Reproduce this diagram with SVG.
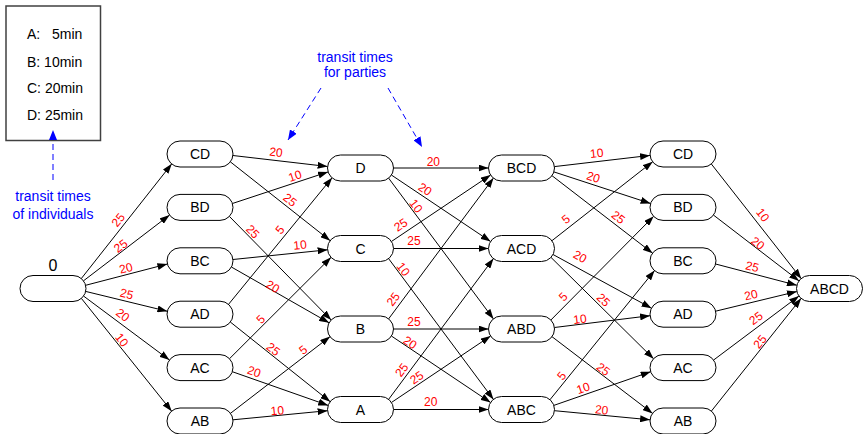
<svg xmlns="http://www.w3.org/2000/svg" width="863" height="434" viewBox="0 0 863 434">
<defs>
<marker id="arr" markerUnits="userSpaceOnUse" markerWidth="10" markerHeight="7" refX="10" refY="3.5" orient="auto"><path d="M0,0 L10,3.5 L0,7 z" fill="#000"/></marker>
<marker id="barr" markerUnits="userSpaceOnUse" markerWidth="10" markerHeight="8" refX="10" refY="4" orient="auto"><path d="M0,0 L10,4 L0,8 z" fill="#0000ff"/></marker>
</defs>
<style>
.n rect{fill:#fff;stroke:#000;stroke-width:1}
.n text{font-family:"Liberation Sans",Arial,sans-serif;font-size:14px;text-anchor:middle;fill:#000}
.e line{stroke:#000;stroke-width:1;marker-end:url(#arr)}
.el{font-family:"Liberation Sans",Arial,sans-serif;font-size:12px;fill:#ff0000;text-anchor:middle}
.bl{font-family:"Liberation Sans",Arial,sans-serif;font-size:14px;fill:#0000ff;text-anchor:middle}
.bd{stroke:#0000ff;stroke-width:1;stroke-dasharray:6,4;fill:none;marker-end:url(#barr)}
.lg{font-family:"Liberation Sans",Arial,sans-serif;font-size:14px;fill:#000}
</style>
<rect width="863" height="434" fill="#fff"/>

<g id="legend">
<rect x="6" y="6" width="94.5" height="134.5" fill="#fff" stroke="#404040" stroke-width="1.5"/>
<text class="lg" x="27" y="39">A:<tspan x="52">5min</tspan></text>
<text class="lg" x="27" y="66.5">B: 10min</text>
<text class="lg" x="27" y="93">C: 20min</text>
<text class="lg" x="27" y="120">D: 25min</text>
</g>
<g id="note-individuals">
<line class="bd" x1="53" y1="180" x2="53" y2="130"/>
<text class="bl" x="53" y="201">transit times</text>
<text class="bl" x="53" y="218.5">of individuals</text>
</g>
<g id="note-parties">
<text class="bl" x="355" y="62">transit times</text>
<text class="bl" x="355" y="77">for parties</text>
<line class="bd" x1="321" y1="88" x2="288" y2="140"/>
<line class="bd" x1="388" y1="88" x2="422" y2="147"/>
</g>

<g id="connectors" class="e">
<line x1="81.2" y1="278.7" x2="171.8" y2="163.8"/>
<line x1="83.4" y1="280.9" x2="169.6" y2="215.0"/>
<line x1="85.6" y1="285.3" x2="167.4" y2="264.0"/>
<line x1="85.6" y1="291.4" x2="167.4" y2="311.3"/>
<line x1="83.5" y1="296.0" x2="169.5" y2="360.1"/>
<line x1="81.3" y1="298.3" x2="171.7" y2="411.2"/>

<line x1="232.9" y1="155.5" x2="327.6" y2="166.5"/>
<line x1="230.3" y1="161.8" x2="330.2" y2="240.7"/>
<line x1="232.4" y1="203.5" x2="328.1" y2="171.9"/>
<line x1="229.3" y1="216.3" x2="331.2" y2="320.1"/>
<line x1="232.9" y1="259.5" x2="327.6" y2="249.8"/>
<line x1="231.4" y1="267.0" x2="329.1" y2="322.8"/>
<line x1="228.4" y1="304.5" x2="332.1" y2="177.7"/>
<line x1="230.3" y1="322.0" x2="330.2" y2="401.7"/>
<line x1="229.4" y1="358.8" x2="331.1" y2="257.3"/>
<line x1="232.3" y1="371.7" x2="328.2" y2="405.4"/>
<line x1="230.4" y1="413.4" x2="330.1" y2="336.6"/>
<line x1="232.9" y1="419.8" x2="327.6" y2="410.7"/>

<line x1="393.5" y1="168" x2="488.5" y2="168"/>
<line x1="391.4" y1="175.0" x2="490.6" y2="241.5"/>
<line x1="388.5" y1="178.0" x2="493.5" y2="319.0"/>
<line x1="391.4" y1="241.5" x2="490.6" y2="175.0"/>
<line x1="393.5" y1="248.5" x2="488.5" y2="248.5"/>
<line x1="388.5" y1="258.5" x2="493.5" y2="399.5"/>
<line x1="388.5" y1="319.0" x2="493.5" y2="178.0"/>
<line x1="393.5" y1="329" x2="488.5" y2="329"/>
<line x1="391.4" y1="336.0" x2="490.6" y2="402.5"/>
<line x1="388.5" y1="399.5" x2="493.5" y2="258.5"/>
<line x1="391.4" y1="402.5" x2="490.6" y2="336.0"/>
<line x1="393.5" y1="409.5" x2="488.5" y2="409.5"/>

<line x1="554.4" y1="166.6" x2="650.1" y2="155.4"/>
<line x1="553.9" y1="171.9" x2="650.6" y2="203.5"/>
<line x1="551.9" y1="175.6" x2="652.6" y2="253.2"/>
<line x1="551.8" y1="240.8" x2="652.7" y2="161.7"/>
<line x1="553.0" y1="254.5" x2="651.5" y2="308.2"/>
<line x1="550.9" y1="257.3" x2="653.6" y2="358.8"/>
<line x1="550.8" y1="320.1" x2="653.7" y2="216.3"/>
<line x1="554.4" y1="327.5" x2="650.1" y2="315.7"/>
<line x1="551.9" y1="336.6" x2="652.6" y2="413.4"/>
<line x1="549.9" y1="399.8" x2="654.6" y2="270.5"/>
<line x1="553.8" y1="405.4" x2="650.7" y2="371.7"/>
<line x1="554.5" y1="410.7" x2="650.1" y2="419.8"/>

<line x1="711.2" y1="163.8" x2="801.3" y2="278.7"/>
<line x1="713.4" y1="215.0" x2="799.1" y2="280.9"/>
<line x1="715.6" y1="264.0" x2="796.9" y2="285.3"/>
<line x1="715.6" y1="311.2" x2="796.9" y2="291.5"/>
<line x1="713.5" y1="360.1" x2="799.0" y2="296.0"/>
<line x1="711.3" y1="411.2" x2="801.2" y2="298.3"/>
</g>

<g id="edge-labels">
<text class="el" transform="translate(118.3,220) rotate(-51.8)" y="4">25</text>
<text class="el" transform="translate(120.7,246) rotate(-37.4)" y="4">25</text>
<text class="el" transform="translate(126,268.3) rotate(-14.6)" y="4">20</text>
<text class="el" transform="translate(126.7,294) rotate(13.6)" y="4">25</text>
<text class="el" transform="translate(122.7,315) rotate(36.7)" y="4">20</text>
<text class="el" transform="translate(121.7,340) rotate(51.3)" y="4">10</text>

<text class="el" transform="translate(276,152.3) rotate(6.7)" y="4">20</text>
<text class="el" transform="translate(295,176) rotate(-18.2)" y="4">10</text>
<text class="el" transform="translate(290,200) rotate(38.3)" y="4">25</text>
<text class="el" transform="translate(252.7,231.7) rotate(45.5)" y="4">25</text>
<text class="el" transform="translate(280,230) rotate(-50.7)" y="4">5</text>
<text class="el" transform="translate(300,245) rotate(-5.9)" y="4">10</text>
<text class="el" transform="translate(272.7,286.7) rotate(29.7)" y="4">20</text>
<text class="el" transform="translate(260.7,319.3) rotate(-44.9)" y="4">5</text>
<text class="el" transform="translate(273.3,349.3) rotate(38.6)" y="4">25</text>
<text class="el" transform="translate(303.3,350) rotate(-37.6)" y="4">5</text>
<text class="el" transform="translate(254,371.7) rotate(19.3)" y="4">20</text>
<text class="el" transform="translate(277.3,410.7) rotate(-5.5)" y="4">10</text>

<text class="el" transform="translate(433.3,162.3)" y="4">20</text>
<text class="el" transform="translate(425,189.3) rotate(33.9)" y="4">20</text>
<text class="el" transform="translate(416,206) rotate(53.3)" y="4">10</text>
<text class="el" transform="translate(400.7,225) rotate(-33.9)" y="4">25</text>
<text class="el" transform="translate(414,241)" y="4">25</text>
<text class="el" transform="translate(403.3,269.3) rotate(53.3)" y="4">10</text>
<text class="el" transform="translate(393.3,299.3) rotate(-53.3)" y="4">25</text>
<text class="el" transform="translate(414,321.7)" y="4">25</text>
<text class="el" transform="translate(410,342.7) rotate(33.9)" y="4">20</text>
<text class="el" transform="translate(401.7,370) rotate(-53.3)" y="4">25</text>
<text class="el" transform="translate(416.7,377.7) rotate(-33.9)" y="4">25</text>
<text class="el" transform="translate(430.7,402.3)" y="4">20</text>

<text class="el" transform="translate(596.7,153.3) rotate(-6.6)" y="4">10</text>
<text class="el" transform="translate(593.3,177.3) rotate(18.1)" y="4">20</text>
<text class="el" transform="translate(618.3,217.3) rotate(37.6)" y="4">25</text>
<text class="el" transform="translate(566,219.3) rotate(-38.1)" y="4">5</text>
<text class="el" transform="translate(580,256.7) rotate(28.6)" y="4">20</text>
<text class="el" transform="translate(563.3,296.7) rotate(-45.3)" y="4">5</text>
<text class="el" transform="translate(603.3,300) rotate(44.7)" y="4">25</text>
<text class="el" transform="translate(580,319.3) rotate(-7)" y="4">10</text>
<text class="el" transform="translate(603.3,369.3) rotate(37.4)" y="4">25</text>
<text class="el" transform="translate(561.7,376) rotate(-51)" y="4">5</text>
<text class="el" transform="translate(583.3,388.3) rotate(-19.2)" y="4">10</text>
<text class="el" transform="translate(601.7,410) rotate(5.5)" y="4">20</text>

<text class="el" transform="translate(762.7,215) rotate(51.9)" y="4">10</text>
<text class="el" transform="translate(757.7,243.3) rotate(37.6)" y="4">20</text>
<text class="el" transform="translate(752.3,266.7) rotate(14.7)" y="4">25</text>
<text class="el" transform="translate(751,295) rotate(-13.7)" y="4">20</text>
<text class="el" transform="translate(756,318.3) rotate(-36.9)" y="4">25</text>
<text class="el" transform="translate(760,341.7) rotate(-51.5)" y="4">25</text>
</g>

<g id="n0" class="n"><rect x="20" y="275.5" width="66" height="26" rx="13"/><text x="53" y="271" style="font-size:16px">0</text></g>

<g id="n1_CD" class="n"><rect x="167" y="141" width="66" height="26" rx="13"/><text x="200" y="159">CD</text></g>
<g id="n1_BD" class="n"><rect x="167" y="194.4" width="66" height="26" rx="13"/><text x="200" y="212.4">BD</text></g>
<g id="n1_BC" class="n"><rect x="167" y="247.8" width="66" height="26" rx="13"/><text x="200" y="265.8">BC</text></g>
<g id="n1_AD" class="n"><rect x="167" y="301.2" width="66" height="26" rx="13"/><text x="200" y="319.2">AD</text></g>
<g id="n1_AC" class="n"><rect x="167" y="354.6" width="66" height="26" rx="13"/><text x="200" y="372.6">AC</text></g>
<g id="n1_AB" class="n"><rect x="167" y="408" width="66" height="26" rx="13"/><text x="200" y="426">AB</text></g>

<g id="n2_D" class="n"><rect x="327.5" y="155" width="66" height="26" rx="13"/><text x="360.5" y="173">D</text></g>
<g id="n2_C" class="n"><rect x="327.5" y="235.5" width="66" height="26" rx="13"/><text x="360.5" y="253.5">C</text></g>
<g id="n2_B" class="n"><rect x="327.5" y="316" width="66" height="26" rx="13"/><text x="360.5" y="334">B</text></g>
<g id="n2_A" class="n"><rect x="327.5" y="396.5" width="66" height="26" rx="13"/><text x="360.5" y="414.5">A</text></g>

<g id="n3_BCD" class="n"><rect x="488.5" y="155" width="66" height="26" rx="13"/><text x="521.5" y="173">BCD</text></g>
<g id="n3_ACD" class="n"><rect x="488.5" y="235.5" width="66" height="26" rx="13"/><text x="521.5" y="253.5">ACD</text></g>
<g id="n3_ABD" class="n"><rect x="488.5" y="316" width="66" height="26" rx="13"/><text x="521.5" y="334">ABD</text></g>
<g id="n3_ABC" class="n"><rect x="488.5" y="396.5" width="66" height="26" rx="13"/><text x="521.5" y="414.5">ABC</text></g>

<g id="n4_CD" class="n"><rect x="650" y="141" width="66" height="26" rx="13"/><text x="683" y="159">CD</text></g>
<g id="n4_BD" class="n"><rect x="650" y="194.4" width="66" height="26" rx="13"/><text x="683" y="212.4">BD</text></g>
<g id="n4_BC" class="n"><rect x="650" y="247.8" width="66" height="26" rx="13"/><text x="683" y="265.8">BC</text></g>
<g id="n4_AD" class="n"><rect x="650" y="301.2" width="66" height="26" rx="13"/><text x="683" y="319.2">AD</text></g>
<g id="n4_AC" class="n"><rect x="650" y="354.6" width="66" height="26" rx="13"/><text x="683" y="372.6">AC</text></g>
<g id="n4_AB" class="n"><rect x="650" y="408" width="66" height="26" rx="13"/><text x="683" y="426">AB</text></g>

<g id="n5_ABCD" class="n"><rect x="796.5" y="275.5" width="66" height="26" rx="13"/><text x="829.5" y="293.5">ABCD</text></g>
</svg>
